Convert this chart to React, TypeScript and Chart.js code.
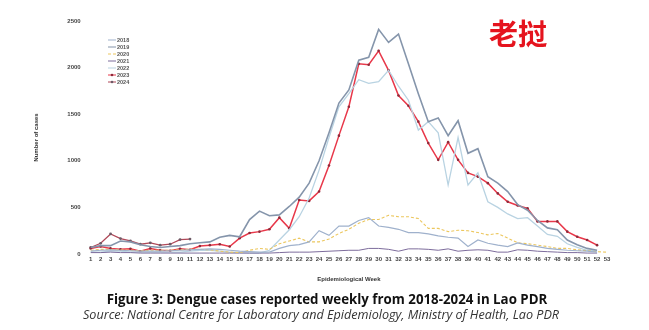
import React, { useEffect, useRef } from "react";
import { Chart, registerables } from "chart.js";

Chart.register(...registerables);

const weeks = ["1","2","3","4","5","6","7","8","9","10","11","12","13","14","15","16","17","18","19","20","21","22","23","24","25","26","27","28","29","30","31","32","33","34","35","36","37","38","39","40","41","42","43","44","45","46","47","48","49","50","51","52","53"];

const y2018 = [30, 40, 45, 40, 35, 30, 30, 30, 35, 40, 45, 50, 55, 50, 40, 30, 25, 20, 20, 60, 90, 100, 130, 250, 200, 300, 300, 360, 390, 300, 285, 265, 230, 230, 215, 195, 180, 170, 80, 150, 115, 95, 80, 120, 95, 80, 60, 50, 40, 35, 30, 20];
const y2019 = [70, 90, 90, 140, 130, 100, 80, 70, 80, 90, 110, 120, 130, 180, 200, 185, 370, 460, 410, 420, 510, 610, 760, 1000, 1300, 1620, 1760, 2080, 2110, 2410, 2270, 2360, 2040, 1720, 1420, 1460, 1270, 1430, 1080, 1130, 830, 760, 670, 530, 470, 360, 280, 260, 150, 100, 60, 40];
const y2020 = [40, 50, 50, 45, 40, 35, 40, 40, 40, 45, 50, 50, 45, 30, 20, 15, 40, 60, 50, 110, 140, 170, 130, 130, 160, 220, 265, 330, 370, 370, 415, 400, 400, 380, 275, 275, 240, 255, 250, 230, 205, 220, 170, 120, 110, 95, 80, 60, 60, 45, 35, 25, 20];
const y2021 = [15, 15, 20, 15, 15, 10, 10, 10, 10, 10, 10, 10, 10, 10, 10, 10, 10, 10, 10, 15, 20, 20, 20, 25, 30, 35, 40, 40, 60, 60, 50, 30, 55, 55, 50, 40, 55, 30, 40, 45, 40, 20, 20, 45, 40, 30, 25, 20, 15, 15, 10, 10];
const y2022 = [20, 20, 30, 30, 20, 20, 20, 20, 20, 20, 30, 40, 40, 30, 20, 15, 10, 10, 40, 150, 260, 400, 600, 900, 1250, 1580, 1720, 1870, 1830, 1850, 1970, 1800, 1650, 1330, 1420, 1300, 740, 1250, 740, 870, 560, 500, 430, 380, 390, 300, 210, 190, 110, 70, 40, 30];
const y2023 = [60, 80, 60, 50, 55, 30, 60, 40, 35, 55, 45, 85, 95, 105, 80, 170, 225, 240, 265, 390, 275, 580, 570, 670, 950, 1270, 1580, 2040, 2030, 2180, 1970, 1700, 1590, 1420, 1190, 1010, 1200, 1010, 870, 830, 760, 650, 560, 520, 490, 350, 350, 350, 240, 185, 150, 95];
const y2024 = [70, 115, 215, 165, 140, 105, 120, 95, 105, 155, 160];

const yTicks = [0, 500, 1000, 1500, 2000, 2500];

const legendPlugin = {
  id: "miniLegend",
  afterDraw(chart: any) {
    const ctx = chart.ctx;
    ctx.save();
    const x0 = 108;
    const y0 = 40;
    const step = 7;
    chart.data.datasets.forEach((ds: any, i: number) => {
      const y = y0 + i * step;
      ctx.strokeStyle = ds.borderColor;
      ctx.lineWidth = 1;
      ctx.setLineDash(ds.borderDash || []);
      ctx.beginPath();
      ctx.moveTo(x0, y);
      ctx.lineTo(x0 + 8, y);
      ctx.stroke();
      ctx.setLineDash([]);
      if (ds.pointRadius > 0) {
        ctx.fillStyle = ds.pointBackgroundColor;
        ctx.beginPath();
        ctx.arc(x0 + 4, y, 1.3, 0, Math.PI * 2);
        ctx.fill();
      }
      ctx.fillStyle = "#555";
      ctx.font = "bold 5.5px 'Liberation Sans', Arial, sans-serif";
      ctx.textBaseline = "middle";
      ctx.textAlign = "left";
      ctx.fillText(ds.label, x0 + 9, y);
    });
    ctx.restore();
  },
};

export default function App() {
  const ref = useRef<HTMLCanvasElement>(null);

  useEffect(() => {
    if (!ref.current) return;
    const chart = new Chart(ref.current, {
      type: "line",
      data: {
        labels: weeks,
        datasets: [
          { label: "2018", data: y2018, borderColor: "#9fb1cc", borderWidth: 1.2, pointRadius: 0, tension: 0 },
          { label: "2019", data: y2019, borderColor: "#8595ab", borderWidth: 1.6, pointRadius: 0, tension: 0 },
          { label: "2020", data: y2020, borderColor: "#ecc75e", borderWidth: 1.1, borderDash: [3, 2], pointRadius: 0, tension: 0 },
          { label: "2021", data: y2021, borderColor: "#7d6c9c", borderWidth: 1, pointRadius: 0, tension: 0 },
          { label: "2022", data: y2022, borderColor: "#b9d3e2", borderWidth: 1.3, pointRadius: 0, tension: 0 },
          { label: "2023", data: y2023, borderColor: "#e8384a", borderWidth: 1.5, pointRadius: 1.3, pointBackgroundColor: "#8e2a3a", pointBorderWidth: 0, tension: 0 },
          { label: "2024", data: y2024, borderColor: "#b04858", borderWidth: 1.3, pointRadius: 1.4, pointBackgroundColor: "#6d5a66", pointBorderWidth: 0, tension: 0 },
        ],
      },
      options: {
        responsive: false,
        animation: false,
        devicePixelRatio: 1,
        layout: { padding: { left: 29, right: 42, top: 21, bottom: 5 } },
        plugins: { legend: { display: false }, tooltip: { enabled: false } },
        scales: {
          x: {
            grid: { display: false, drawTicks: false },
            border: { display: false },
            ticks: {
              autoSkip: false,
              maxRotation: 0,
              padding: 2,
              color: "#444",
              font: { size: 6, weight: "bold", family: "'Liberation Sans', Arial, sans-serif" },
            },
            title: {
              display: true,
              text: "Epidemiological Week",
              color: "#333",
              padding: { top: 4, bottom: 4 },
              font: { size: 6, weight: "bold", family: "'Liberation Sans', Arial, sans-serif" },
            },
            afterFit(scale: any) {
              scale.height = 33;
            },
          },
          y: {
            min: 0,
            max: 2500,
            grid: { display: false, drawTicks: false },
            border: { display: false },
            afterBuildTicks(scale: any) {
              scale.ticks = yTicks.map((v) => ({ value: v }));
            },
            ticks: {
              padding: 10,
              color: "#444",
              callback: (v: any) => String(v),
              font: { size: 6, weight: "bold", family: "'Liberation Sans', Arial, sans-serif" },
            },
            title: {
              display: true,
              text: "Number of cases",
              color: "#333",
              padding: { top: 4, bottom: 4 },
              font: { size: 6, weight: "bold", family: "'Liberation Sans', Arial, sans-serif" },
            },
            afterFit(scale: any) {
              scale.width = 61.7;
            },
          },
        },
      },
      plugins: [legendPlugin],
    });
    return () => chart.destroy();
  }, []);

  return (
    <div style={{ position: "fixed", left: 0, top: 0, width: 649, height: 330, background: "#fff", overflow: "hidden" }}>
      <canvas ref={ref} width={649} height={292} style={{ position: "absolute", left: 0, top: 0, width: 649, height: 292 }} />
      <div
        style={{
          position: "absolute",
          left: 518,
          top: 13,
          transform: "translateX(-50%)",
          fontFamily: "'Noto Sans CJK SC', sans-serif",
          fontWeight: 700,
          fontSize: 29,
          lineHeight: "38px",
          color: "#e5141e",
          whiteSpace: "nowrap",
        }}
      >
        老挝
      </div>
      <div
        style={{
          position: "absolute",
          left: 327,
          top: 291,
          transform: "translateX(-50%)",
          fontFamily: "'Open Sans', sans-serif",
          fontWeight: 700,
          fontSize: 13.3,
          lineHeight: "16px",
          color: "#111",
          whiteSpace: "nowrap",
        }}
      >
        Figure 3: Dengue cases reported weekly from 2018-2024 in Lao PDR
      </div>
      <div
        style={{
          position: "absolute",
          left: 321,
          top: 307,
          transform: "translateX(-50%)",
          fontFamily: "'Open Sans', sans-serif",
          fontStyle: "italic",
          fontSize: 12.6,
          lineHeight: "16px",
          color: "#333",
          whiteSpace: "nowrap",
        }}
      >
        Source: National Centre for Laboratory and Epidemiology, Ministry of Health, Lao PDR
      </div>
    </div>
  );
}
